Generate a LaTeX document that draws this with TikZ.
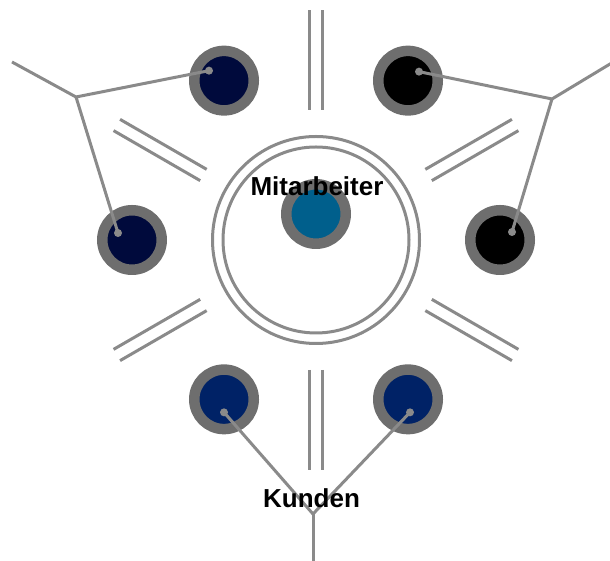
\documentclass[tikz,border=0pt]{standalone}
\usepackage{fontspec}
\setmainfont{Liberation Sans}
\usetikzlibrary{calc}
\definecolor{ringgray}{HTML}{6E6E6E}
\definecolor{wiregray}{HTML}{8A8A8A}
\definecolor{staffblue}{HTML}{005F8C}
\definecolor{navydark}{HTML}{000A3C}
\definecolor{navymid}{HTML}{002266}

\begin{document}
\begin{tikzpicture}[x=1pt,y=1pt,
  every node/.style={font=\fontsize{26}{30}\selectfont\bfseries},
  seat/.style={circle,draw=ringgray,line width=10.5pt,minimum size=59.5pt,inner sep=0pt},
  pin/.style={circle,fill=wiregray,minimum size=8pt,inner sep=0pt},
  wire/.style={draw=wiregray,line width=3pt},
  lbl/.style={anchor=base,text=black}
]
\clip (0,0) rectangle (610,561);
\coordinate (C) at (316,321);

% double separators between the seats
\foreach \a in {30,90,...,330}{
  \draw[wire] ($(C)+(\a:130)+(\a+90:6.5)$) -- ($(C)+(\a:230)+(\a+90:6.5)$);
  \draw[wire] ($(C)+(\a:130)+(\a-90:6.5)$) -- ($(C)+(\a:230)+(\a-90:6.5)$);
}

% table in the middle
\draw[wire] (C) circle[radius=103.5];
\draw[wire] (C) circle[radius=93];
\node[seat,fill=staffblue] (M) at ($(C)+(0,26)$) {};

% outer seats
\node[seat,fill=navydark] (S1) at ($(C)+(120:184)$) {};
\node[seat,fill=navydark] (S2) at ($(C)+(180:184)$) {};
\node[seat,fill=black]    (S3) at ($(C)+(60:184)$) {};
\node[seat,fill=black]    (S4) at ($(C)+(0:184)$) {};
\node[seat,fill=navymid]  (S5) at ($(C)+(240:184)$) {};
\node[seat,fill=navymid]  (S6) at ($(C)+(300:184)$) {};

% pins
\node[pin] (P1) at ($(S1)+(-15,10)$) {};
\node[pin] (P2) at ($(S2)+(-14,7)$) {};
\node[pin] (P3) at ($(S3)+(11,9)$) {};
\node[pin] (P4) at ($(S4)+(12,8)$) {};
\node[pin] (P5) at ($(S5)+(0,-13)$) {};
\node[pin] (P6) at ($(S6)+(2,-13)$) {};

% junctions
\coordinate (J1) at (76,464);
\coordinate (E1) at (12,499);
\coordinate (J2) at (552,462);
\coordinate (E2) at (615,500);
\coordinate (J3) at (313,47);
\coordinate (E3) at (313,-26);

\draw[wire,line join=round] (P1.center) -- (J1) -- (P2.center);
\draw[wire] (J1) -- (E1);
\draw[wire,line join=round] (P3.center) -- (J2) -- (P4.center);
\draw[wire] (J2) -- (E2);
\draw[wire,line join=round] (P5.center) -- (J3) -- (P6.center);
\draw[wire] (J3) -- (E3);

% labels
\node[lbl] (mt) at (317,365) {Mitarbeiter};
\node[lbl] (kt) at (311.5,53) {Kunden};
\end{tikzpicture}
\end{document}
